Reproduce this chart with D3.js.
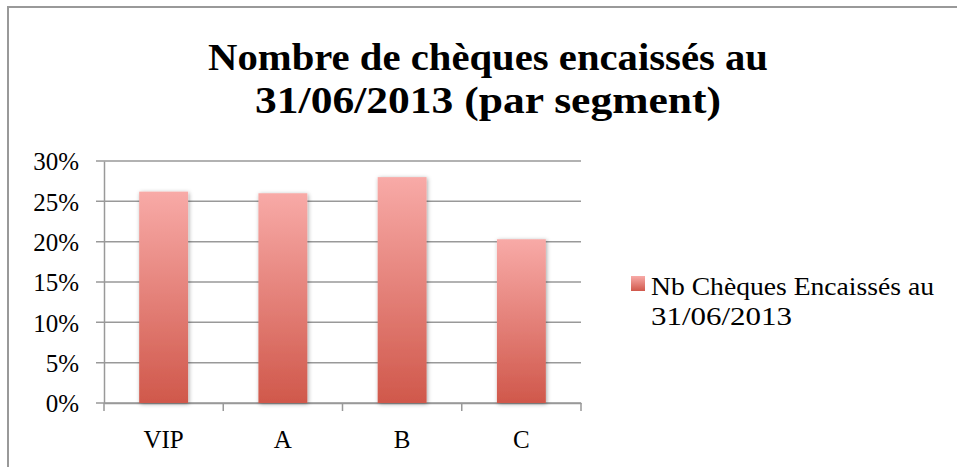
<!DOCTYPE html>
<html>
<head>
<meta charset="utf-8">
<script src="https://cdnjs.cloudflare.com/ajax/libs/d3/7.8.5/d3.min.js"></script>
<style>
  body { margin: 0; background: #fff; }
  text { font-family: "Liberation Serif", "DejaVu Serif", serif; fill: #000; }
</style>
</head>
<body>
<div class="chart"></div>
<script>
// chart data
var categories = ["VIP", "A", "B", "C"];
var values = [0.262, 0.260, 0.280, 0.203];
var yTicks = [0, 0.05, 0.10, 0.15, 0.20, 0.25, 0.30];
var titleLines = ["Nombre de chèques encaissés au", "31/06/2013 (par segment)"];
var legendLines = ["Nb Chèques Encaissés au", "31/06/2013"];

var svgWidth = 957, svgHeight = 467;

// plot area
var margin = { top: 161, left: 104 };
var width = 581 - 104;
var height = 403 - 161;

var svg = d3.select(".chart").append("svg")
    .attr("width", svgWidth)
    .attr("height", svgHeight);

var defs = svg.append("defs");

var grad = defs.append("linearGradient")
    .attr("id", "barGrad")
    .attr("x1", 0).attr("y1", 0).attr("x2", 0).attr("y2", 1);
grad.append("stop").attr("offset", "0%").attr("stop-color", "#f8aaa7");
grad.append("stop").attr("offset", "100%").attr("stop-color", "#d0584b");

var shadow = defs.append("filter")
    .attr("id", "shadow")
    .attr("x", "-30%").attr("y", "-10%")
    .attr("width", "160%").attr("height", "120%");
shadow.append("feDropShadow")
    .attr("dx", 1).attr("dy", 1)
    .attr("stdDeviation", 2)
    .attr("flood-color", "#000")
    .attr("flood-opacity", 0.35);

// outer frame
svg.append("rect")
    .attr("x", 8).attr("y", 7)
    .attr("width", svgWidth)
    .attr("height", svgHeight)
    .attr("fill", "none")
    .attr("stroke", "#999")
    .attr("stroke-width", 2);

// title (text widths matched to the original font)
var titleWidths = [560, 466];
var title = svg.append("text")
    .attr("text-anchor", "middle")
    .style("font-weight", "bold")
    .style("font-size", "37px");
titleLines.forEach(function(t, i) {
    title.append("tspan")
        .attr("x", 488)
        .attr("y", 70 + i * 43)
        .attr("textLength", titleWidths[i])
        .attr("lengthAdjust", "spacingAndGlyphs")
        .text(t);
});

var chartGroup = svg.append("g")
    .attr("transform", `translate(${margin.left}, ${margin.top})`);

var xScale = d3.scaleBand()
    .domain(categories)
    .range([0, width])
    .paddingInner(0.59)
    .paddingOuter(0.295);

var yScale = d3.scaleLinear()
    .domain([0, 0.30])
    .range([height, 0]);

// gridlines
chartGroup.append("g")
    .selectAll("line")
    .data(yTicks)
    .enter()
    .append("line")
    .attr("x1", -8)
    .attr("x2", width)
    .attr("y1", d => yScale(d))
    .attr("y2", d => yScale(d))
    .attr("stroke", "#999")
    .attr("stroke-width", 1.5);

// y axis
var leftAxis = d3.axisLeft(yScale)
    .tickValues(yTicks)
    .tickSize(0)
    .tickPadding(25)
    .tickFormat(d3.format(".0%"));

var yAxis = chartGroup.append("g")
    .classed("y-axis", true)
    .call(leftAxis);
yAxis.select(".domain").attr("stroke", "#999").attr("stroke-width", 1.5);
yAxis.selectAll("text").style("font-size", "25px").attr("dy", "0.35em");

// x axis
var bottomAxis = d3.axisBottom(xScale.copy().paddingInner(0).paddingOuter(0))
    .tickSize(0)
    .tickPadding(27);

var xAxis = chartGroup.append("g")
    .classed("x-axis", true)
    .attr("transform", `translate(0, ${height})`)
    .call(bottomAxis);
xAxis.select(".domain").attr("stroke", "#999").attr("stroke-width", 1.5);
xAxis.selectAll("text").style("font-size", "25px");

// category tick marks between groups
var step = width / categories.length;
xAxis.append("g")
    .selectAll("line")
    .data(d3.range(categories.length + 1))
    .enter()
    .append("line")
    .attr("x1", d => d * step)
    .attr("x2", d => d * step)
    .attr("y1", 0)
    .attr("y2", 8)
    .attr("stroke", "#999")
    .attr("stroke-width", 1.5);

// bars
chartGroup.append("g")
    .selectAll("rect")
    .data(values)
    .enter()
    .append("rect")
    .attr("x", (d, i) => xScale(categories[i]))
    .attr("y", d => yScale(d))
    .attr("width", xScale.bandwidth())
    .attr("height", d => height - yScale(d))
    .attr("fill", "url(#barGrad)")
    .attr("filter", "url(#shadow)");

// legend
var legendWidths = [283, 141];
var legend = svg.append("g");
legend.append("rect")
    .attr("x", 631).attr("y", 276)
    .attr("width", 14).attr("height", 15)
    .attr("fill", "url(#barGrad)");
var legendText = legend.append("text")
    .style("font-size", "25px");
legendLines.forEach(function(t, i) {
    legendText.append("tspan")
        .attr("x", 651)
        .attr("y", 295 + i * 30)
        .attr("textLength", legendWidths[i])
        .attr("lengthAdjust", "spacingAndGlyphs")
        .text(t);
});
</script>
</body>
</html>
